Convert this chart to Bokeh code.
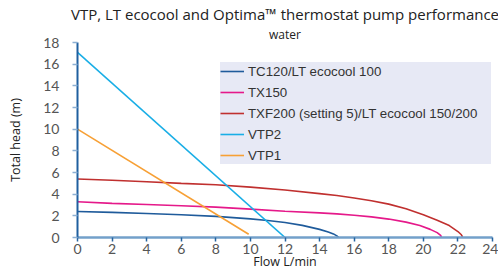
from bokeh.plotting import figure
from bokeh.models import Range1d, FixedTicker, Legend, LegendItem, Title
from bokeh.embed import file_html
from bokeh.resources import INLINE

# ---- data ----
tc120_flow = [0, 2, 4, 6, 8, 10, 11, 12, 13, 14, 14.5, 14.8, 15.0, 15.1]
tc120_head = [2.4, 2.32, 2.22, 2.1, 1.95, 1.72, 1.57, 1.38, 1.12, 0.75, 0.5, 0.33, 0.15, 0.02]

tx150_flow = [0, 2, 4, 6, 8, 10, 12, 14, 15, 16, 17, 18, 19, 19.8, 20.4, 20.8, 21.0, 21.05]
tx150_head = [3.3, 3.15, 3.05, 2.93, 2.8, 2.62, 2.42, 2.27, 2.18, 2.05, 1.9, 1.7, 1.42, 1.1, 0.75, 0.45, 0.2, 0.03]

txf200_flow = [0, 2, 4, 6, 8, 10, 12, 14, 15, 16, 17, 18, 19, 20, 20.8, 21.5, 22.0, 22.2, 22.27]
txf200_head = [5.4, 5.28, 5.15, 5.0, 4.87, 4.65, 4.38, 4.05, 3.88, 3.65, 3.4, 3.08, 2.65, 2.1, 1.6, 1.1, 0.55, 0.25, 0.05]

vtp2_flow = [0, 12.0]
vtp2_head = [17.1, 0]

vtp1_flow = [0, 9.9]
vtp1_head = [10.0, 0.3]

series_names = ["TC120/LT ecocool 100", "TX150", "TXF200 (setting 5)/LT ecocool 150/200", "VTP2", "VTP1"]
series_colors = ["#1f5b9b", "#e5198a", "#c0302f", "#19aee6", "#f7a035"]

x_ticks = list(range(0, 25, 2))
y_ticks = list(range(0, 19, 2))

title_text = "VTP, LT ecocool and Optima\u2122 thermostat pump performance"
subtitle_text = "water"
x_label = "Flow L/min"
y_label = "Total head (m)"

# ---- figure ----
p = figure(width=498, height=274, output_backend="svg", toolbar_location=None,
           x_range=Range1d(0, 24), y_range=Range1d(0, 18),
           min_border_left=77, min_border_right=6, min_border_top=42, min_border_bottom=37)
p.outline_line_color = None
p.xgrid.visible = False
p.ygrid.visible = False
p.background_fill_color = "white"

# main title (outermost), then subtitle closer to the frame
p.title.text = title_text
p.title.align = "center"
p.title.text_font = "Open Sans"
p.title.text_font_style = "normal"
p.title.text_font_size = "15px"
p.title.text_color = "#222222"
p.title.standoff = 0
p.title.offset = -9
p.add_layout(Title(text=subtitle_text, align="center", text_font="Open Sans",
                   text_font_style="normal", text_font_size="12px",
                   text_color="#222222", standoff=0, offset=-17), "above")

flows = [tc120_flow, tx150_flow, txf200_flow, vtp2_flow, vtp1_flow]
heads = [tc120_head, tx150_head, txf200_head, vtp2_head, vtp1_head]
renderers = []
for f, h, c in zip(flows, heads, series_colors):
    r = p.line(f, h, line_color=c, line_width=1.6)
    renderers.append(r)

# axes
xa = p.xaxis[0]
xa.ticker = FixedTicker(ticks=x_ticks)
xa.axis_line_color = "#73a0ca"
xa.axis_line_width = 2.5
xa.major_tick_line_color = "#2563a0"
xa.major_tick_line_width = 1.5
xa.major_tick_out = 4
xa.major_tick_in = 0
xa.minor_tick_line_color = None
xa.major_label_text_font = "Lato"
xa.major_label_text_font_size = "14px"
xa.major_label_text_color = "#555555"
xa.major_label_standoff = 2
xa.axis_label = x_label
xa.axis_label_text_font = "Open Sans"
xa.axis_label_text_font_style = "normal"
xa.axis_label_text_font_size = "12.5px"
xa.axis_label_text_color = "#222222"
xa.axis_label_standoff = -4

ya = p.yaxis[0]
ya.ticker = FixedTicker(ticks=y_ticks)
ya.axis_line_color = "#1f5f9f"
ya.axis_line_width = 2
ya.major_tick_line_color = "#8db0d3"
ya.major_tick_line_width = 1.5
ya.major_tick_out = 5
ya.major_tick_in = 0
ya.minor_tick_line_color = None
ya.major_label_text_font = "Lato"
ya.major_label_text_font_size = "14px"
ya.major_label_text_color = "#555555"
ya.major_label_standoff = 13
ya.axis_label = y_label
ya.axis_label_text_font = "Open Sans"
ya.axis_label_text_font_style = "normal"
ya.axis_label_text_font_size = "12.5px"
ya.axis_label_text_color = "#222222"
ya.axis_label_standoff = 16

legend = Legend(items=[LegendItem(label=n, renderers=[r]) for n, r in zip(series_names, renderers)],
                location=(143, 73), orientation="vertical")
legend.background_fill_color = "#e7e9f5"
legend.background_fill_alpha = 1
legend.border_line_color = None
legend.padding = 2
legend.margin = 0
legend.spacing = 3
legend.glyph_width = 24
legend.glyph_height = 18
legend.label_height = 18
legend.label_width = 243
legend.label_standoff = 4
legend.label_text_font = "Liberation Sans"
legend.label_text_font_size = "13.3px"
legend.label_text_color = "#333333"
p.add_layout(legend, "center")

open("out.html", "w").write(file_html(p, INLINE))
